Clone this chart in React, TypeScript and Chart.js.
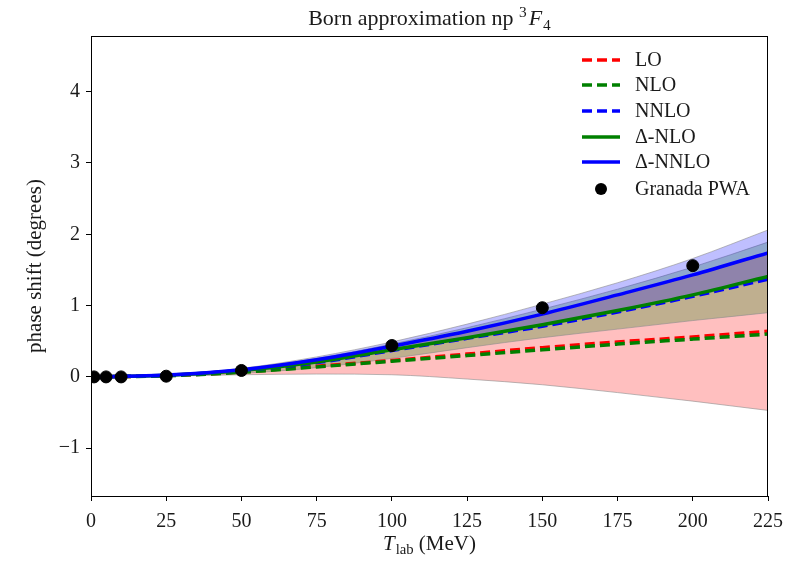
import React, { useEffect, useRef } from 'react';
import { Chart, registerables } from 'chart.js';
Chart.register(...registerables);

// ---- data ----
const T_GRID = [0, 25, 50, 75, 100, 125, 150, 175, 200, 225];
const LO = [0, 0.018, 0.07, 0.15, 0.23, 0.32, 0.41, 0.49, 0.56, 0.64];
const NLO = [0, 0.016, 0.065, 0.14, 0.22, 0.3, 0.38, 0.46, 0.53, 0.6];
const NNLO = [0, 0.022, 0.09, 0.2, 0.37, 0.54, 0.71, 0.91, 1.13, 1.37];
const D_NLO = [0, 0.023, 0.09, 0.21, 0.38, 0.55, 0.73, 0.93, 1.15, 1.41];
const D_NNLO = [0, 0.025, 0.1, 0.24, 0.43, 0.64, 0.88, 1.15, 1.43, 1.74];

const LO_BAND_LOW = [0, 0.01, 0.03, 0.04, 0.03, -0.03, -0.11, -0.22, -0.34, -0.47];
const LO_BAND_HIGH = [0, 0.025, 0.1, 0.24, 0.43, 0.64, 0.88, 1.15, 1.43, 1.74];
const NLO_BAND_LOW = [0, 0.012, 0.05, 0.13, 0.26, 0.41, 0.55, 0.67, 0.79, 0.9];
const NLO_BAND_HIGH = [0, 0.028, 0.11, 0.26, 0.46, 0.69, 0.95, 1.23, 1.54, 1.89];
const NNLO_BAND_LOW = [0, 0.022, 0.09, 0.2, 0.37, 0.54, 0.71, 0.91, 1.13, 1.37];
const NNLO_BAND_HIGH = [0, 0.03, 0.12, 0.28, 0.49, 0.74, 1.02, 1.32, 1.66, 2.06];

const PWA_T = [1, 5, 10, 25, 50, 100, 150, 200];
const PWA_Y = [0, 0, 0, 0.01, 0.09, 0.44, 0.97, 1.56];

const X_TICKS = [0, 25, 50, 75, 100, 125, 150, 175, 200, 225];
const Y_TICKS = [-1, 0, 1, 2, 3, 4];

const LEGEND_LABELS = ['LO', 'NLO', 'NNLO', '\u0394-NLO', '\u0394-NNLO', 'Granada PWA'];

const FONT = '"Liberation Serif", "DejaVu Serif", serif';
const TEXT = '#1a1a1a';

const pts = (xs: number[], ys: number[]) => xs.map((x, i) => ({ x, y: ys[i] }));

const EDGE = 'rgba(140,140,140,0.6)';

function bandPair(low: number[], high: number[], color: string, order: number) {
  return [
    {
      data: pts(T_GRID, low), borderColor: EDGE, borderWidth: 1, pointRadius: 0, fill: false,
      cubicInterpolationMode: 'monotone', order,
    },
    {
      data: pts(T_GRID, high), borderColor: EDGE, borderWidth: 1, pointRadius: 0, fill: '-1',
      backgroundColor: color, cubicInterpolationMode: 'monotone', order,
    },
  ];
}

function lineDs(vals: number[], color: string, dashed: boolean, order: number) {
  return {
    data: pts(T_GRID, vals), borderColor: color, borderWidth: 3.5, pointRadius: 0, fill: false,
    borderDash: dashed ? [10, 5] : [], cubicInterpolationMode: 'monotone', order,
  };
}

const overlay = {
  id: 'overlay',
  afterDraw(chart: any) {
    const ctx = chart.ctx as CanvasRenderingContext2D;
    const ca = chart.chartArea;
    ctx.save();
    // frame
    ctx.strokeStyle = '#000';
    ctx.lineWidth = 1;
    ctx.strokeRect(ca.left + 0.5, ca.top + 0.5, ca.right - ca.left - 1, ca.bottom - ca.top);
    ctx.fillStyle = TEXT;
    ctx.textBaseline = 'alphabetic';

    // title: Born approximation np ^3F_4
    const cx = (ca.left + ca.right) / 2;
    const tSize = 22;
    const main = 'Born approximation np ';
    ctx.font = `${tSize}px ${FONT}`;
    const wMain = ctx.measureText(main).width;
    ctx.font = `${tSize * 0.7}px ${FONT}`;
    const wSup = ctx.measureText('3').width;
    ctx.font = `italic ${tSize}px ${FONT}`;
    const wF = ctx.measureText('F').width;
    ctx.font = `${tSize * 0.7}px ${FONT}`;
    const wSub = ctx.measureText('4').width;
    const total = wMain + wSup + 2 + wF + 1 + wSub;
    let x = cx - total / 2;
    const by = 25;
    ctx.textAlign = 'left';
    ctx.font = `${tSize}px ${FONT}`;
    ctx.fillText(main, x, by); x += wMain;
    ctx.font = `${tSize * 0.7}px ${FONT}`;
    ctx.fillText('3', x, by - 8); x += wSup + 2;
    ctx.font = `italic ${tSize}px ${FONT}`;
    ctx.fillText('F', x, by); x += wF + 1;
    ctx.font = `${tSize * 0.7}px ${FONT}`;
    ctx.fillText('4', x, by + 5);

    // x label: T_lab (MeV)
    const lSize = 21;
    ctx.font = `italic ${lSize}px ${FONT}`;
    const wT = ctx.measureText('T').width;
    ctx.font = `${lSize * 0.7}px ${FONT}`;
    const wLab = ctx.measureText('lab').width;
    ctx.font = `${lSize}px ${FONT}`;
    const wRest = ctx.measureText(' (MeV)').width;
    const xt = wT + 1 + wLab + wRest;
    let xx = cx - xt / 2;
    const xb = 550;
    ctx.font = `italic ${lSize}px ${FONT}`;
    ctx.fillText('T', xx, xb); xx += wT + 1;
    ctx.font = `${lSize * 0.7}px ${FONT}`;
    ctx.fillText('lab', xx, xb + 4); xx += wLab;
    ctx.font = `${lSize}px ${FONT}`;
    ctx.fillText(' (MeV)', xx, xb);

    // y label
    ctx.save();
    ctx.translate(35, (ca.top + ca.bottom) / 2);
    ctx.rotate(-Math.PI / 2);
    ctx.textAlign = 'center';
    ctx.textBaseline = 'middle';
    ctx.font = `${lSize}px ${FONT}`;
    ctx.fillText('phase shift (degrees)', 0, 0);
    ctx.restore();

    // legend
    const rows = [60, 85, 111, 137, 162, 189];
    const styles = [
      { c: 'red', d: true }, { c: 'green', d: true }, { c: 'blue', d: true },
      { c: 'green', d: false }, { c: 'blue', d: false }, { c: '#000', p: true },
    ] as any[];
    const hx0 = 582, hx1 = 620, tx = 635;
    ctx.font = `20px ${FONT}`;
    ctx.textAlign = 'left';
    ctx.textBaseline = 'middle';
    rows.forEach((ry, i) => {
      const s = styles[i];
      if (s.p) {
        ctx.beginPath();
        ctx.arc((hx0 + hx1) / 2, ry, 6, 0, Math.PI * 2);
        ctx.fillStyle = '#000';
        ctx.fill();
      } else {
        ctx.beginPath();
        ctx.strokeStyle = s.c;
        ctx.lineWidth = 3.5;
        ctx.setLineDash(s.d ? [10, 5] : []);
        ctx.moveTo(hx0, ry);
        ctx.lineTo(hx1, ry);
        ctx.stroke();
        ctx.setLineDash([]);
      }
      ctx.fillStyle = TEXT;
      ctx.fillText(LEGEND_LABELS[i], tx, ry + 1);
    });
    ctx.restore();
  },
};

export default function App() {
  const ref = useRef<HTMLCanvasElement | null>(null);
  useEffect(() => {
    if (!ref.current) return;
    const datasets: any[] = [
      ...bandPair(LO_BAND_LOW, LO_BAND_HIGH, 'rgba(255,0,0,0.25)', 12),
      ...bandPair(NLO_BAND_LOW, NLO_BAND_HIGH, 'rgba(0,128,0,0.25)', 11),
      ...bandPair(NNLO_BAND_LOW, NNLO_BAND_HIGH, 'rgba(0,0,255,0.25)', 10),
      lineDs(LO, 'red', true, 6),
      lineDs(NLO, 'green', true, 5),
      lineDs(NNLO, 'blue', true, 4),
      lineDs(D_NLO, 'green', false, 3),
      lineDs(D_NNLO, 'blue', false, 2),
      {
        type: 'scatter', data: pts(PWA_T, PWA_Y), backgroundColor: '#000', borderColor: '#000',
        pointRadius: 6, pointHoverRadius: 6, showLine: false, fill: false, order: 0,
      },
    ];
    const tickCommon = {
      font: { family: FONT, size: 20 }, color: TEXT, maxRotation: 0, autoSkip: false,
    };
    const chart = new Chart(ref.current, {
      type: 'line',
      data: { datasets },
      options: {
        responsive: false,
        animation: false,
        events: [],
        layout: { padding: { left: 0, right: 39, top: 36, bottom: 0 } },
        plugins: { legend: { display: false }, title: { display: false }, tooltip: { enabled: false } },
        scales: {
          x: {
            type: 'linear', min: 0, max: 225,
            afterFit: (s: any) => { s.height = 65; },
            afterBuildTicks: (s: any) => { s.ticks = X_TICKS.map((v) => ({ value: v })); },
            ticks: { ...tickCommon, padding: 9, callback: (v: any) => String(v) },
            grid: { display: true, drawOnChartArea: false, drawTicks: true, tickLength: 5, tickColor: '#000', tickWidth: 1 },
            border: { display: true, color: '#000', width: 1 },
          },
          y: {
            type: 'linear', min: -1.67, max: 4.78,
            afterFit: (s: any) => { s.width = 91; },
            afterBuildTicks: (s: any) => { s.ticks = Y_TICKS.map((v) => ({ value: v })); },
            ticks: { ...tickCommon, padding: 6, callback: (v: any) => (v < 0 ? '\u2212' + Math.abs(v) : String(v)) },
            grid: { display: true, drawOnChartArea: false, drawTicks: true, tickLength: 5, tickColor: '#000', tickWidth: 1 },
            border: { display: true, color: '#000', width: 1 },
          },
        },
      },
      plugins: [overlay],
    } as any);
    return () => chart.destroy();
  }, []);
  return (
    <div style={{ position: 'fixed', left: 0, top: 0, width: 807, height: 561, background: '#fff' }}>
      <canvas ref={ref} width={807} height={561} />
    </div>
  );
}
